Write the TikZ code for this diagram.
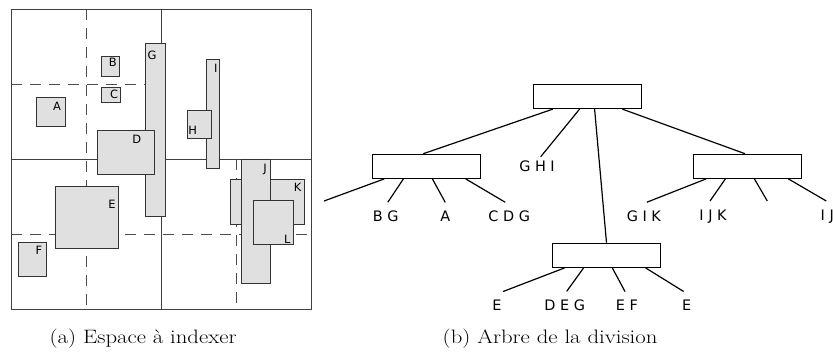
\documentclass[tikz,border=0pt]{standalone}
\usepackage{fontspec}
\usepackage{graphicx}
\newfontfamily\labelfont{DejaVu Sans}
\usetikzlibrary{calc}

\begin{document}
\begin{tikzpicture}[x=1bp, y=-1bp,
	part/.style={draw=black!75, line width=0.9bp},
	cut/.style={draw=black!70, line width=0.9bp, dash pattern=on 11bp off 8bp},
	obj/.style={draw=black!80, fill=black!12, line width=0.9bp},
	objlabel/.style={font=\labelfont\fontsize{11.5}{13}\selectfont, inner sep=0pt},
	cell/.style={draw, line width=1.2bp, minimum width=108bp, minimum height=24bp, inner sep=0pt},
	leaf/.style={font=\labelfont\fontsize{14.5}{17}\selectfont, inner sep=0pt, outer ysep=8.5bp},
	branch/.style={line width=1.2bp},
	caption/.style={font=\fontsize{19.5}{23}\selectfont, inner sep=0pt, anchor=base west}]
			%%%%% START %%%%%
			
			\useasboundingbox (0,0) rectangle (833,354);
			
			% space to index
			\draw[part] (11,9) rectangle (311,309);
			\draw[part] (161,9) -- (161,309);
			\draw[part] (11,159) -- (311,159);
			\draw[cut] (86,9) -- (86,309);
			\draw[cut] (11,84) -- (161,84);
			\draw[cut] (11,234) -- (311,234);
			\draw[cut] (236,159) -- (236,309);
			
			\draw[obj] (36.7,97) rectangle (65,126.3);
			\node[objlabel] (labA) at (57,106) {A};
			\draw[obj] (101,56.7) rectangle (119.3,76.7);
			\node[objlabel] (labB) at (112.7,62.7) {B};
			\draw[obj] (101.3,87.3) rectangle (120.7,102.7);
			\node[objlabel] (labC) at (114,94) {C};
			\draw[obj] (18.3,242.7) rectangle (46.3,276.3);
			\node[objlabel] (labF) at (39,250) {F};
			\draw[obj] (55,186.7) rectangle (118.3,248.7);
			\node[objlabel] (labE) at (112,204) {E};
			\draw[obj] (145,43.3) rectangle (165.3,216);
			\node[objlabel] (labG) at (152,55.7) {G};
			\draw[obj] (97.3,130.3) rectangle (154,174);
			\node[objlabel] (labD) at (136.7,139.3) {D};
			\draw[obj] (206.7,59) rectangle (219.3,168);
			\node[objlabel] (labI) at (215.7,68.3) {I};
			\draw[obj] (187.3,110.3) rectangle (211.7,138);
			\node[objlabel] (labH) at (192.7,130) {H};
			\draw[obj] (230,179.7) rectangle (304.3,224);
			\node[objlabel] (labK) at (297.7,187.7) {K};
			\draw[obj] (241.7,159.3) rectangle (270.3,283.3);
			\node[objlabel] (labJ) at (265,169) {J};
			\draw[obj] (253.3,200.3) rectangle (293.3,244.7);
			\node[objlabel] (labL) at (287.3,239.3) {L};
			
			% division tree
			\node[cell] (root) at (587.5,96.5) {};
			\node[cell] (nw) at (426.3,166.3) {};
			\node[cell] (se) at (747.7,166.3) {};
			\node[cell] (sw) at (606.5,255.3) {};
			
			\node[leaf] (ghi) at (537,166.7) {G H I};
			\node[leaf] (bg) at (385.8,216.2) {B G};
			\node[leaf] (a) at (445.3,216.2) {A};
			\node[leaf] (cdg) at (509.2,216.2) {C D G};
			\node[leaf] (gik) at (643.8,216.2) {G I K};
			\node[leaf] (ijk) at (713,216.2) {I J K};
			\node[leaf, anchor=west] (ij) at (820.5,216.2) {I J};
			\node[leaf] (e1) at (497,305.3) {E};
			\node[leaf] (deg) at (564.7,305.3) {D E G};
			\node[leaf] (ef) at (627,305.3) {E F};
			\node[leaf] (e2) at (686.7,305.3) {E};
			\coordinate (nwnw) at (324,201);
			\coordinate (sesw) at (767.3,201);
			
			\draw[branch] ($(root.south west)+(20,0)$) -- ([xshift=-3bp]nw.north);
			\draw[branch] ($(root.south west)+(46.7,0)$) -- ([xshift=3.7bp, yshift=-4bp]ghi.north);
			\draw[branch] ($(root.south west)+(61.7,0)$) -- (sw.north);
			\draw[branch] ($(root.south west)+(89.4,0)$) -- ([xshift=-2.7bp]se.north);
			
			\draw[branch] ($(nw.south west)+(12.5,0)$) -- (nwnw);
			\foreach \off/\dx/\to in {31.7/2/bg, 60.7/0/a, 94/-4/cdg}
				\draw[branch] ($(nw.south west)+(\off,0)$) -- ([xshift=\dx bp]\to.north);
			
			\draw[branch] ($(se.south west)+(61.3,0)$) -- (sesw);
			\foreach \off/\dx/\to in {13/3/gik, 32.3/-3/ijk, 95.3/-1/ij}
				\draw[branch] ($(se.south west)+(\off,0)$) -- ([xshift=\dx bp]\to.north);
			
			\foreach \off/\dx/\to in {12.7/6/e1, 31.7/2/deg, 60.4/-2/ef, 93.7/-3/e2}
				\draw[branch] ($(sw.south west)+(\off,0)$) -- ([xshift=\dx bp]\to.north);
			
			% captions
			\node[caption] (capa) at (49.5,343) {\scalebox{1.17}[1]{(a) Espace à indexer}};
			\node[caption] (capb) at (442.5,343) {\scalebox{1.17}[1]{(b) Arbre de la division}};
			
			%%%%% END %%%%%
\end{tikzpicture}
\end{document}
